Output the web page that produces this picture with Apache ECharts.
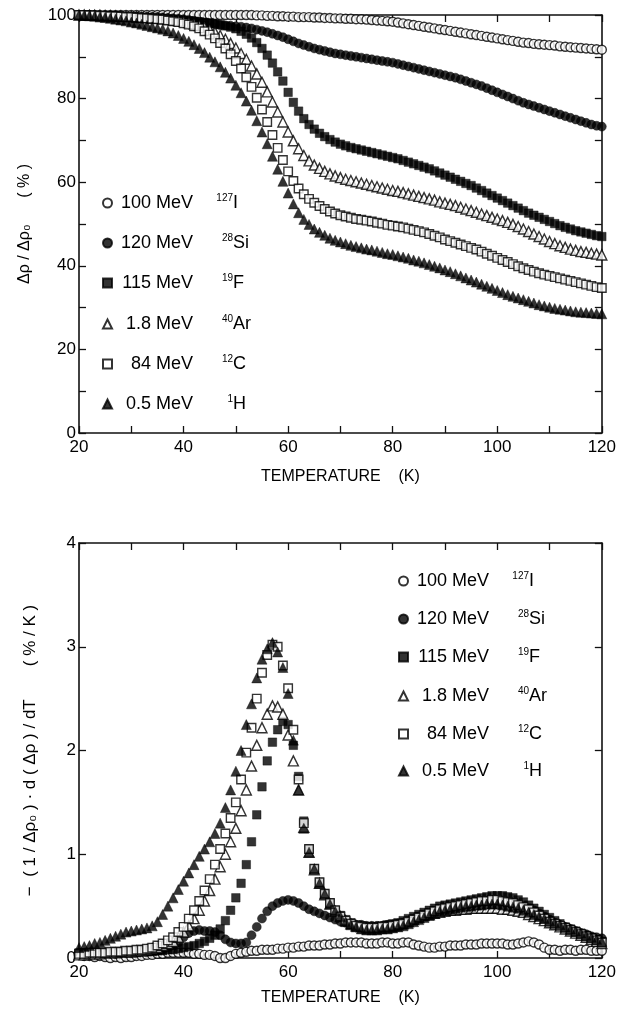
<!DOCTYPE html>
<html>
<head>
<meta charset="utf-8">
<script src="https://cdn.jsdelivr.net/npm/echarts@6/dist/echarts.min.js"></script>
<style>
html,body{margin:0;padding:0;background:#fff;}
#chart{width:619px;height:1022px;}
</style>
</head>
<body>
<div id="chart"></div>
<script>
// ---- categories ----
const energies = ['100 MeV','120 MeV','115 MeV','1.8 MeV','84 MeV','0.5 MeV'];
const massNums = ['127','28','19','40','12','1'];
const elements = ['I','Si','F','Ar','C','H'];
const symbols  = ['circle','circle','rect','triangle','rect','triangle'];
const filled   = [false,true,true,false,false,true];

// ---- temperatures (K) ----
const temps = [20,21,22,23,24,25,26,27,28,29,30,31,32,33,34,35,36,37,38,39,
40,41,42,43,44,45,46,47,48,49,50,51,52,53,54,55,56,57,58,59,
60,61,62,63,64,65,66,67,68,69,70,71,72,73,74,75,76,77,78,79,
80,81,82,83,84,85,86,87,88,89,90,91,92,93,94,95,96,97,98,99,
100,101,102,103,104,105,106,107,108,109,110,111,112,113,114,115,116,117,118,119,120];

// ---- upper panel: Δρ/Δρ0 (%) ----
const topI = [100,100,100,100,100,100,100,100,100,100,100,100,100,100,100,100,100,100,100,100,
100,100,100,100,100,100,100,100,100,100,100,100,100,100,99.9,99.9,99.8,99.8,99.7,99.7,
99.6,99.6,99.5,99.5,99.5,99.4,99.4,99.3,99.3,99.2,99.2,99.1,99.1,99,99,98.9,98.8,98.7,98.6,98.5,
98.4,98.2,98,97.8,97.6,97.4,97.2,97,96.8,96.6,96.4,96.2,96,95.8,95.6,95.4,95.2,95,94.8,94.6,
94.4,94.2,94,93.8,93.6,93.4,93.3,93.1,93,92.9,92.8,92.7,92.5,92.4,92.3,92.2,92.1,92,91.9,91.8,91.7];
const topSi = [100,100,100,99.9,99.9,99.9,99.8,99.8,99.8,99.7,99.7,99.7,99.6,99.6,99.5,99.5,99.4,99.3,99.2,99.1,
99,98.8,98.6,98.4,98.2,98,97.8,97.6,97.5,97.4,97.3,97.2,97,96.8,96.5,96.2,95.9,95.5,95.1,94.7,
94.2,93.7,93.2,92.8,92.4,92,91.7,91.4,91.1,90.8,90.6,90.4,90.2,90,89.8,89.6,89.4,89.2,89,88.8,
88.6,88.3,88,87.7,87.4,87.1,86.8,86.5,86.2,85.9,85.6,85.3,85,84.6,84.2,83.8,83.4,83,82.5,82,
81.5,81,80.5,80,79.5,79,78.6,78.2,77.8,77.4,77,76.6,76.2,75.8,75.4,75,74.6,74.2,73.8,73.5,73.3];
const topF = [100,100,99.9,99.9,99.8,99.8,99.7,99.7,99.6,99.6,99.5,99.4,99.4,99.3,99.2,99.2,99.1,99,98.9,98.8,
98.7,98.6,98.5,98.4,98.2,98.1,97.9,97.7,97.4,97.1,96.7,96.1,95.4,94.5,93.4,92,90.4,88.5,86.4,84.2,
81.5,79.1,77,75.2,73.8,72.7,71.7,70.9,70.2,69.6,69.1,68.7,68.3,68,67.7,67.4,67.1,66.8,66.5,66.2,
65.9,65.6,65.2,64.8,64.4,64,63.6,63.2,62.7,62.2,61.7,61.2,60.7,60.2,59.7,59.2,58.6,58,57.4,56.8,
56.2,55.6,55,54.4,53.8,53.2,52.6,52.1,51.6,51.1,50.6,50.1,49.6,49.2,48.8,48.4,48.1,47.8,47.5,47.2,47];
const topAr = [100,100,99.9,99.9,99.9,99.8,99.8,99.7,99.7,99.6,99.6,99.5,99.4,99.4,99.3,99.2,99.1,99,98.8,98.7,
98.5,98.2,97.9,97.5,97.1,96.5,95.9,95.1,94.2,93.2,92.1,90.8,89.4,87.8,85.9,83.9,81.6,79.2,76.8,74.4,
72,69.9,68,66.4,65.1,64.1,63.3,62.6,62,61.5,61.1,60.7,60.4,60.1,59.8,59.5,59.2,58.9,58.6,58.3,
58,57.8,57.5,57.2,56.9,56.6,56.3,56,55.7,55.3,55,54.7,54.4,54,53.6,53.2,52.8,52.4,52,51.6,
51.2,50.8,50.4,49.9,49.4,48.8,48.2,47.6,47,46.4,45.8,45.3,44.8,44.4,44,43.7,43.4,43.2,43,42.8,42.6];
const topC = [100,100,99.9,99.9,99.8,99.8,99.7,99.7,99.6,99.5,99.5,99.4,99.3,99.2,99.1,99,98.9,98.7,98.5,98.3,
98,97.7,97.3,96.8,96.1,95.3,94.4,93.3,92,90.6,89,87.2,85.1,82.8,80.2,77.4,74.4,71.3,68.2,65.3,
62.6,60.3,58.5,57.1,56,55.1,54.3,53.6,53,52.5,52.1,51.8,51.5,51.2,51,50.8,50.6,50.3,50.1,49.8,
49.6,49.4,49.2,48.9,48.6,48.3,48,47.6,47.2,46.8,46.3,45.9,45.5,45.1,44.7,44.3,43.9,43.4,42.9,42.4,
41.9,41.4,40.9,40.4,39.9,39.4,39,38.6,38.2,37.9,37.6,37.3,37,36.7,36.4,36.1,35.8,35.5,35.2,34.9,34.7];
const topH = [100,99.9,99.8,99.7,99.5,99.4,99.2,99,98.8,98.6,98.3,98.1,97.8,97.5,97.2,96.9,96.6,96.2,95.7,95.1,
94.4,93.7,92.9,92,91,89.9,88.8,87.6,86.3,84.9,83.2,81.4,79.4,77.2,74.7,72,69.2,66.2,63.1,60.2,
57.4,54.8,52.7,51.1,49.9,48.8,48,47.3,46.6,46.1,45.7,45.3,44.9,44.6,44.3,44,43.8,43.5,43.2,42.9,
42.7,42.4,42.1,41.8,41.4,41.1,40.7,40.3,39.9,39.5,39,38.6,38.1,37.6,37.1,36.6,36.1,35.6,35.1,34.6,
34.1,33.6,33.1,32.7,32.3,31.9,31.5,31.1,30.7,30.4,30.1,29.8,29.6,29.4,29.2,29,28.9,28.8,28.7,28.6,28.5];

// ---- lower panel: -(1/Δρ0)·d(Δρ)/dT (%/K) ----
const dI = [0.03,0.02,0.02,0.01,0.02,0.01,0.0,0.01,0.0,0.01,0.01,0.02,0.02,0.03,0.03,0.04,0.04,0.05,0.05,0.05,
0.05,0.05,0.04,0.04,0.03,0.03,0.02,0.0,0.0,0.02,0.04,0.05,0.06,0.07,0.07,0.08,0.08,0.08,0.09,0.09,
0.1,0.1,0.11,0.11,0.12,0.12,0.12,0.13,0.13,0.14,0.14,0.15,0.15,0.15,0.15,0.14,0.14,0.14,0.15,0.15,
0.14,0.14,0.15,0.15,0.13,0.12,0.11,0.1,0.1,0.11,0.11,0.12,0.12,0.12,0.13,0.13,0.13,0.14,0.14,0.14,
0.14,0.14,0.13,0.13,0.14,0.15,0.16,0.15,0.13,0.1,0.08,0.08,0.07,0.08,0.08,0.07,0.08,0.08,0.07,0.07,0.07];
const dSi = [0.05,0.05,0.04,0.04,0.05,0.05,0.05,0.04,0.05,0.05,0.05,0.06,0.06,0.06,0.07,0.07,0.08,0.1,0.12,0.15,
0.2,0.24,0.26,0.27,0.26,0.26,0.25,0.22,0.18,0.15,0.14,0.14,0.15,0.22,0.3,0.38,0.45,0.5,0.53,0.55,
0.56,0.55,0.53,0.5,0.47,0.45,0.43,0.41,0.39,0.37,0.35,0.34,0.33,0.32,0.32,0.31,0.31,0.31,0.31,0.32,
0.32,0.33,0.34,0.35,0.37,0.39,0.41,0.43,0.45,0.46,0.47,0.48,0.49,0.5,0.51,0.52,0.53,0.54,0.55,0.55,
0.55,0.55,0.54,0.53,0.52,0.5,0.48,0.46,0.43,0.4,0.37,0.34,0.32,0.3,0.28,0.26,0.24,0.23,0.21,0.2,0.19];
const dF = [0.05,0.05,0.05,0.05,0.05,0.05,0.05,0.05,0.05,0.05,0.05,0.05,0.06,0.06,0.06,0.07,0.07,0.08,0.08,0.09,
0.1,0.11,0.12,0.14,0.16,0.19,0.22,0.28,0.36,0.46,0.58,0.72,0.9,1.12,1.38,1.65,1.9,2.08,2.2,2.28,
2.25,2.05,1.75,1.32,1.05,0.86,0.73,0.62,0.53,0.46,0.41,0.37,0.34,0.32,0.31,0.3,0.3,0.3,0.31,0.32,
0.33,0.34,0.36,0.38,0.4,0.42,0.44,0.46,0.48,0.5,0.51,0.52,0.53,0.54,0.55,0.56,0.57,0.58,0.59,0.6,
0.6,0.6,0.59,0.58,0.56,0.54,0.51,0.48,0.45,0.42,0.39,0.36,0.33,0.3,0.28,0.26,0.24,0.22,0.2,0.18,0.16];
const dAr = [0.03,0.03,0.04,0.04,0.04,0.05,0.05,0.05,0.06,0.06,0.06,0.07,0.07,0.08,0.09,0.1,0.12,0.14,0.16,0.2,
0.25,0.31,0.38,0.46,0.55,0.65,0.76,0.88,1.0,1.12,1.25,1.42,1.62,1.85,2.05,2.22,2.35,2.43,2.42,2.35,
2.15,1.9,1.62,1.26,1.02,0.85,0.72,0.61,0.52,0.45,0.4,0.36,0.33,0.31,0.3,0.29,0.29,0.29,0.3,0.3,
0.31,0.32,0.33,0.35,0.37,0.39,0.41,0.42,0.43,0.44,0.45,0.46,0.46,0.47,0.47,0.48,0.48,0.48,0.48,0.48,
0.48,0.47,0.47,0.46,0.45,0.44,0.42,0.4,0.38,0.36,0.34,0.32,0.3,0.28,0.26,0.24,0.22,0.2,0.18,0.16,0.14];
const dC = [0.04,0.04,0.05,0.05,0.05,0.05,0.06,0.06,0.06,0.07,0.07,0.08,0.08,0.09,0.1,0.12,0.14,0.17,0.2,0.25,
0.3,0.38,0.46,0.55,0.65,0.76,0.9,1.05,1.2,1.35,1.5,1.72,1.98,2.22,2.5,2.75,2.92,3.02,3.0,2.82,
2.6,2.2,1.72,1.3,1.05,0.86,0.73,0.62,0.53,0.46,0.4,0.36,0.33,0.31,0.3,0.29,0.29,0.29,0.3,0.3,
0.31,0.32,0.33,0.35,0.37,0.39,0.41,0.43,0.45,0.47,0.48,0.49,0.5,0.51,0.52,0.53,0.54,0.55,0.55,0.56,
0.56,0.55,0.54,0.53,0.51,0.49,0.47,0.44,0.41,0.38,0.35,0.33,0.31,0.29,0.27,0.25,0.23,0.21,0.19,0.17,0.15];
const dH = [0.1,0.11,0.12,0.14,0.15,0.17,0.19,0.21,0.23,0.25,0.26,0.27,0.28,0.29,0.31,0.35,0.42,0.5,0.58,0.66,
0.74,0.82,0.9,0.98,1.05,1.12,1.2,1.3,1.45,1.62,1.8,2.0,2.25,2.45,2.7,2.88,2.98,3.04,2.95,2.8,
2.55,2.1,1.62,1.25,1.02,0.86,0.72,0.62,0.52,0.45,0.4,0.35,0.32,0.3,0.28,0.27,0.27,0.27,0.28,0.28,
0.29,0.3,0.31,0.33,0.35,0.37,0.39,0.41,0.43,0.45,0.46,0.47,0.48,0.49,0.5,0.5,0.51,0.51,0.52,0.52,
0.52,0.51,0.5,0.49,0.48,0.46,0.44,0.42,0.4,0.38,0.36,0.34,0.32,0.3,0.28,0.26,0.24,0.22,0.2,0.18,0.16];

// ---- tick labels ----
const xTickLabels = [20,40,60,80,100,120];
const yTopTickLabels = [0,20,40,60,80,100];
const yBotTickLabels = [0,1,2,3,4];

const topData = [topI, topSi, topF, topAr, topC, topH];
const botData = [dI, dSi, dF, dAr, dC, dH];
const names = energies.map((e,i)=> e + ' ' + massNums[i] + elements[i]);

const FONT = "'Liberation Sans', Arial, sans-serif";
const axisCol = '#111';

// text measuring (for right-aligned legend columns)
const mctx = document.createElement('canvas').getContext('2d');
function textW(txt, size){ mctx.font = size + "px 'Liberation Sans', Arial, sans-serif"; return mctx.measureText(txt).width; }

function sizeOf(i){ return symbols[i]==='triangle' ? 10 : (symbols[i]==='rect' ? 8.5 : 9); }
function styleOf(i){
  return filled[i] ? {color:'#000', borderColor:'#000', borderWidth:0.5}
                   : {color:'#fff', borderColor:'#000', borderWidth:1.4};
}

function makeX(gi, pos, showLabels, nameTxt, nameGap){
  return {
    type:'value', gridIndex:gi, position:pos, min:20, max:120, interval:10,
    axisLine:{show:true, onZero:false, lineStyle:{color:axisCol, width:1.6}},
    axisTick:{show:true, inside:true, length:7, lineStyle:{color:axisCol, width:1.3}},
    axisLabel:{show:showLabels, margin:6, color:'#000', fontFamily:FONT, fontSize:17,
      formatter: v => xTickLabels.indexOf(v) >= 0 ? String(v) : ''},
    splitLine:{show:false},
    name: nameTxt || '', nameLocation:'middle', nameGap: nameGap || 0,
    nameTextStyle:{color:'#000', fontFamily:FONT, fontSize:16}
  };
}
function makeY(gi, pos, max, interval, labels, showLabels, nameTxt, nameGap, nameSize){
  return {
    type:'value', gridIndex:gi, position:pos, min:0, max:max, interval:interval,
    axisLine:{show:true, onZero:false, lineStyle:{color:axisCol, width:1.6}},
    axisTick:{show:true, inside:true, length:7, lineStyle:{color:axisCol, width:1.3}},
    axisLabel:{show:showLabels, margin:3, color:'#000', fontFamily:FONT, fontSize:17,
      formatter: v => labels.indexOf(v) >= 0 ? String(v) : ''},
    splitLine:{show:false},
    name: nameTxt || '', nameLocation:'middle', nameGap: nameGap || 0, nameRotate:90,
    nameTextStyle:{color:'#000', fontFamily:FONT, fontSize:nameSize || 16}
  };
}

const series = [];
for (let i = 0; i < 6; i++) {
  series.push({
    name: names[i], type:'scatter', xAxisIndex:0, yAxisIndex:0,
    symbol: symbols[i], symbolSize: sizeOf(i), itemStyle: styleOf(i),
    data: temps.map((t,k)=>[t, topData[i][k]]), silent:true
  });
  series.push({
    name: names[i], type:'scatter', xAxisIndex:2, yAxisIndex:2,
    symbol: symbols[i], symbolSize: sizeOf(i), itemStyle: styleOf(i),
    data: temps.map((t,k)=>[t, botData[i][k]]), silent:true
  });
}

const E_SIZE = 18, M_SIZE = 10;
function legendFor(i, left, centerY){
  const padE = Math.max(1, 76 - textW(energies[i], E_SIZE));
  const padM = Math.max(1, 40 - textW(massNums[i], M_SIZE));
  const rich = {
    p:{fontSize:E_SIZE, width:padE, lineHeight:20},
    e:{fontFamily:FONT, fontSize:E_SIZE, color:'#000', lineHeight:20},
    q:{fontSize:E_SIZE, width:padM, lineHeight:20},
    m:{fontFamily:FONT, fontSize:M_SIZE, color:'#000', lineHeight:10, verticalAlign:'top'},
    n:{fontFamily:FONT, fontSize:E_SIZE, color:'#000', lineHeight:20}
  };
  return {
    data:[names[i]], left:left, top:centerY - 10, orient:'vertical', padding:0,
    itemWidth:9, itemHeight:9, itemGap:0, selectedMode:false,
    formatter: function(n){ const k = names.indexOf(n);
      return '{p| }{e|' + energies[k] + '}{q| }{m|' + massNums[k] + '}{n|' + elements[k] + '}'; },
    textStyle:{rich:rich}
  };
}
const legends = [];
const topRows = [203,243,283,324,364,404];
const botRows = [581,619,657,696,734,771];
for (let i = 0; i < 6; i++) {
  legends.push(legendFor(i, 102, topRows[i]));
  legends.push(legendFor(i, 398, botRows[i]));
}

const option = {
  animation:false,
  backgroundColor:'#fff',
  grid:[
    {left:79, top:15, width:523, height:418},
    {left:79, top:543, width:523, height:415}
  ],
  xAxis:[
    makeX(0,'bottom',true,'TEMPERATURE    (K)',36),
    makeX(0,'top',false),
    makeX(1,'bottom',true,'TEMPERATURE    (K)',32),
    makeX(1,'top',false)
  ],
  yAxis:[
    makeY(0,'left',100,10,yTopTickLabels,true,'Δρ / Δρ₀      ( % )',46,16),
    makeY(0,'right',100,10,yTopTickLabels,false),
    makeY(1,'left',4,1,yBotTickLabels,true,'−  ( 1 / Δρ₀ ) · d ( Δρ ) / dT       ( % / K )',40,17),
    makeY(1,'right',4,1,yBotTickLabels,false)
  ],
  legend: legends,
  series: series
};

const chart = echarts.init(document.getElementById('chart'), null, {renderer:'canvas'});
chart.setOption(option);
</script>
</body>
</html>
